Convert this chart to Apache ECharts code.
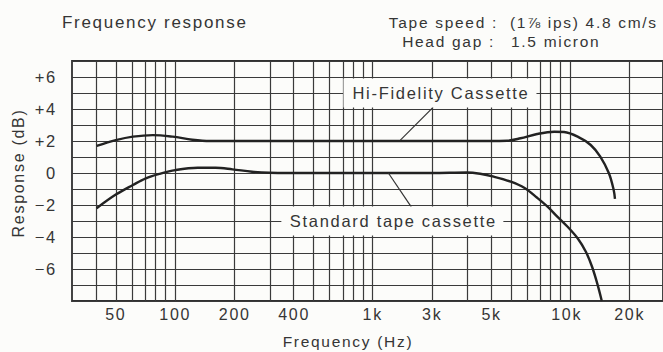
<!DOCTYPE html>
<html>
<head>
<meta charset="utf-8">
<script src="https://cdn.jsdelivr.net/npm/echarts@6/dist/echarts.min.js"></script>
<style>
  html, body { margin: 0; padding: 0; background: #fcfcfa; }
  #chart { width: 663px; height: 352px; letter-spacing: 1.7px; }
</style>
</head>
<body>
<div id="chart"></div>
<script>
// vertical lines of the log paper (Hz)
var gridFreqs = [40, 50, 60, 70, 80, 90, 100, 200, 300, 400, 500, 600, 700, 800, 900,
  1000, 2000, 3000, 4000, 5000, 6000, 7000, 8000, 9000, 10000, 20000];
// printed frequency labels, and the line each one is printed under
var xTickText = ['50', '100', '200', '400', '1k', '3k', '5k', '10k', '20k'];
var xTickAt = [50, 100, 200, 400, 1000, 2000, 4000, 9600, 20000];

// Hi-Fidelity Cassette
var hifiFreq = [40, 50, 61, 77, 97, 122, 150, 200, 500, 1000, 3000, 4800, 5600, 6800, 8300, 9300, 10900, 12700, 14200, 15700, 16600, 16850];
var hifiDb = [1.69, 2.05, 2.27, 2.37, 2.27, 2.08, 2.0, 2.0, 2.0, 2.0, 2.0, 2.02, 2.17, 2.44, 2.58, 2.56, 2.27, 1.75, 1.02, -0.02, -1.06, -1.62];

// Standard tape cassette
var stdFreq = [40, 50, 61, 71, 83, 100, 130, 160, 195, 245, 300, 500, 1000, 2000, 3000, 3500, 4100, 5000, 5850, 6800, 7700, 8600, 9700, 10900, 12000, 12900, 13700, 14450];
var stdDb = [-2.2, -1.35, -0.75, -0.33, -0.06, 0.18, 0.33, 0.33, 0.23, 0.08, 0.02, 0, 0, 0, 0.03, -0.05, -0.23, -0.54, -0.92, -1.55, -2.12, -2.73, -3.36, -4.08, -4.92, -5.86, -6.9, -8];

var FONT = '"Liberation Sans", Arial, sans-serif';
var INK = '#353535';
var PAPER = '#fcfcfa';

function lg(f) { return Math.log10(f); }
function pts(fs, ds) {
  return fs.map(function (f, i) { return [lg(f), ds[i]]; });
}

var chart = echarts.init(document.getElementById('chart'), null, { renderer: 'svg' });

var headerText = [
  {
    type: 'text', x: 62, y: 22,
    style: { text: 'Frequency response', font: '17px ' + FONT, fill: INK, align: 'left', verticalAlign: 'middle' }
  },
  {
    type: 'text', x: 498, y: 22,
    style: { text: 'Tape speed :', font: '15.5px ' + FONT, fill: INK, align: 'right', verticalAlign: 'middle' }
  },
  {
    type: 'text', x: 510, y: 22,
    style: { text: '(1\u215E ips) 4.8 cm/s', font: '15.5px ' + FONT, fill: INK, align: 'left', verticalAlign: 'middle' }
  },
  {
    type: 'text', x: 495, y: 41,
    style: { text: 'Head gap :', font: '15.5px ' + FONT, fill: INK, align: 'right', verticalAlign: 'middle' }
  },
  {
    type: 'text', x: 511, y: 41,
    style: { text: '1.5 micron', font: '15.5px ' + FONT, fill: INK, align: 'left', verticalAlign: 'middle' }
  },
  {
    type: 'text', x: 348, y: 341,
    style: { text: 'Frequency (Hz)', font: '15.5px ' + FONT, fill: INK, align: 'center', verticalAlign: 'middle' }
  },
  {
    type: 'text', x: 18, y: 173, rotation: Math.PI / 2,
    style: { text: 'Response (dB)', font: '16px ' + FONT, fill: INK, align: 'center', verticalAlign: 'middle' }
  }
];

var option = {
  animation: false,
  backgroundColor: PAPER,
  grid: {
    left: 72, right: -3, top: 61, bottom: 51,
    show: true, borderColor: '#303030', borderWidth: 1.8
  },
  xAxis: {
    type: 'value',
    min: lg(30),
    max: lg(29500),
    axisLine: { show: false },
    axisTick: { show: false },
    splitLine: { show: false },
    axisLabel: {
      customValues: xTickAt.map(lg),
      margin: 5,
      fontFamily: FONT,
      fontSize: 16,
      color: INK,
      formatter: function (v) {
        for (var i = 0; i < xTickAt.length; i++) {
          if (Math.abs(lg(xTickAt[i]) - v) < 1e-6) return xTickText[i];
        }
        return '';
      }
    }
  },
  yAxis: {
    type: 'value',
    min: -8, max: 7, interval: 1,
    axisLine: { show: false },
    axisTick: { show: false },
    splitLine: { show: true, lineStyle: { color: '#3a3a3a', width: 1.2 } },
    axisLabel: {
      margin: 15,
      fontFamily: FONT,
      fontSize: 16.5,
      color: INK,
      formatter: function (v) {
        if (v % 2 !== 0 || v === -8) return '';
        if (v > 0) return '+' + v;
        if (v < 0) return '\u2212' + (-v);
        return '0';
      }
    }
  },
  series: [
    {
      name: 'paper',
      type: 'line',
      data: [],
      silent: true,
      markLine: {
        z: 1,
        silent: true,
        symbol: ['none', 'none'],
        label: { show: false },
        lineStyle: { color: '#3a3a3a', width: 1.2, type: 'solid' },
        data: gridFreqs.map(function (f) { return { xAxis: lg(f) }; })
      }
    },
    {
      name: 'Hi-Fidelity Cassette',
      type: 'line',
      z: 3,
      data: pts(hifiFreq, hifiDb),
      smooth: 0.35,
      symbol: 'none',
      lineStyle: { color: '#222', width: 2.4 },
      markLine: {
        silent: true,
        symbol: ['none', 'none'],
        label: { show: false },
        lineStyle: { color: '#333', width: 1.2, type: 'solid' },
        data: [[{ coord: [lg(2020), 4.1] }, { coord: [lg(1380), 2.05] }]]
      }
    },
    {
      name: 'Standard tape cassette',
      type: 'line',
      z: 3,
      data: pts(stdFreq, stdDb),
      smooth: 0.35,
      symbol: 'none',
      lineStyle: { color: '#222', width: 2.4 },
      markLine: {
        silent: true,
        symbol: ['none', 'none'],
        label: { show: false },
        lineStyle: { color: '#333', width: 1.2, type: 'solid' },
        data: [[{ coord: [lg(1200), 0] }, { coord: [lg(1567), -2.12] }]]
      }
    }
  ],
  graphic: headerText
};

chart.setOption(option);

// series name boxes, placed through the axes, blanking out the grid behind them
function nameBox(id, text, at, w) {
  var p = chart.convertToPixel({ gridIndex: 0 }, at);
  return [
    {
      id: id + '-bg', type: 'rect', z: 100,
      shape: { x: p[0] - w / 2, y: p[1] - 14.5, width: w, height: 29 },
      style: { fill: PAPER }
    },
    {
      id: id + '-txt', type: 'text', z: 101, x: p[0] + 1, y: p[1],
      style: { text: text, font: '16.5px ' + FONT, fill: INK, align: 'center', verticalAlign: 'middle' }
    }
  ];
}

chart.setOption({
  graphic: headerText
    .concat(nameBox('hifi', 'Hi-Fidelity Cassette', [lg(2190), 5], 193))
    .concat(nameBox('std', 'Standard tape cassette', [lg(1257), -3], 222))
});
</script>
</body>
</html>
